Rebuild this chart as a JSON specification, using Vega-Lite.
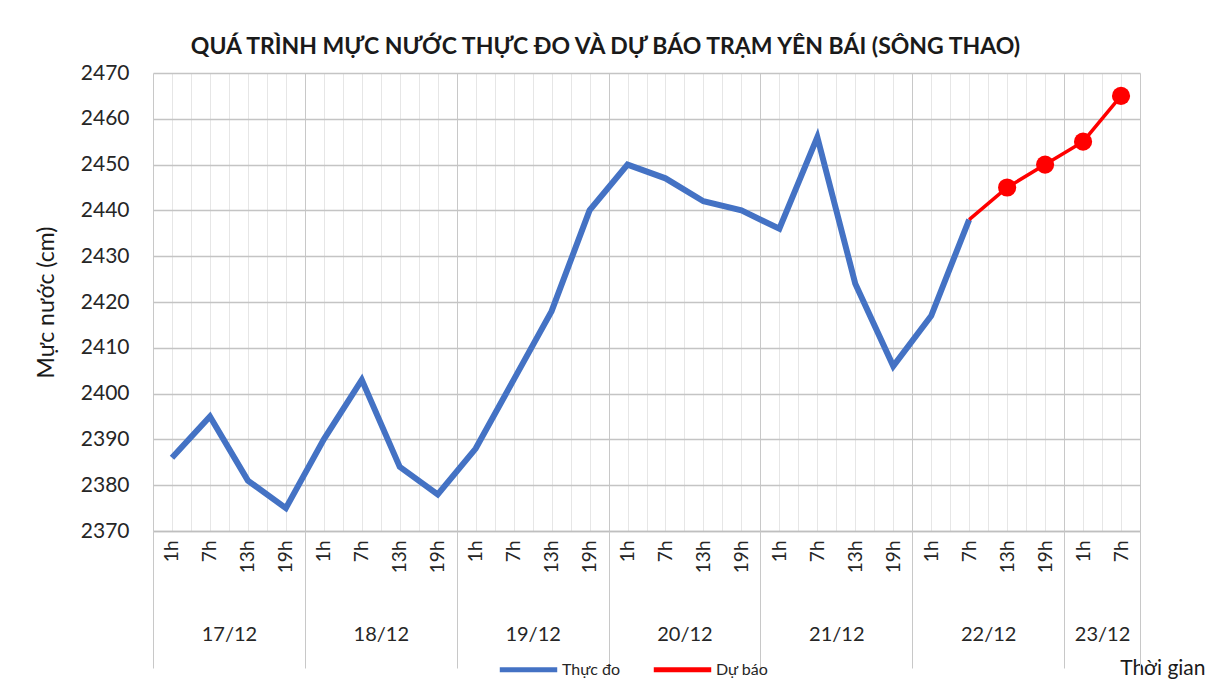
{
  "$schema": "https://vega.github.io/schema/vega-lite/v6.json",
  "width": 987,
  "height": 458,
  "autosize": {"type": "none"},
  "padding": {"left": 153, "top": 73, "right": 72, "bottom": 160},
  "background": "white",
  "title": {
    "text": "QUÁ TRÌNH MỰC NƯỚC THỰC ĐO VÀ DỰ BÁO TRẠM YÊN BÁI (SÔNG THAO)",
    "font": "Lato",
    "fontWeight": "bold",
    "fontSize": 23,
    "color": "#1a1a1a",
    "anchor": "middle",
    "dx": -41,
    "offset": 3
  },
  "config": {
    "view": {"stroke": null},
    "axis": {"labelColor": "#262626", "titleColor": "#1a1a1a", "labelFont": "Lato", "titleFont": "Lato"}
  },
  "data": {
    "values": [
      {"t": 1, "day": "17/12", "hour": "1h", "series": "Thực đo", "level": 2386},
      {"t": 2, "day": "17/12", "hour": "7h", "series": "Thực đo", "level": 2395},
      {"t": 3, "day": "17/12", "hour": "13h", "series": "Thực đo", "level": 2381},
      {"t": 4, "day": "17/12", "hour": "19h", "series": "Thực đo", "level": 2375},
      {"t": 5, "day": "18/12", "hour": "1h", "series": "Thực đo", "level": 2390},
      {"t": 6, "day": "18/12", "hour": "7h", "series": "Thực đo", "level": 2403},
      {"t": 7, "day": "18/12", "hour": "13h", "series": "Thực đo", "level": 2384},
      {"t": 8, "day": "18/12", "hour": "19h", "series": "Thực đo", "level": 2378},
      {"t": 9, "day": "19/12", "hour": "1h", "series": "Thực đo", "level": 2388},
      {"t": 10, "day": "19/12", "hour": "7h", "series": "Thực đo", "level": 2403},
      {"t": 11, "day": "19/12", "hour": "13h", "series": "Thực đo", "level": 2418},
      {"t": 12, "day": "19/12", "hour": "19h", "series": "Thực đo", "level": 2440},
      {"t": 13, "day": "20/12", "hour": "1h", "series": "Thực đo", "level": 2450},
      {"t": 14, "day": "20/12", "hour": "7h", "series": "Thực đo", "level": 2447},
      {"t": 15, "day": "20/12", "hour": "13h", "series": "Thực đo", "level": 2442},
      {"t": 16, "day": "20/12", "hour": "19h", "series": "Thực đo", "level": 2440},
      {"t": 17, "day": "21/12", "hour": "1h", "series": "Thực đo", "level": 2436},
      {"t": 18, "day": "21/12", "hour": "7h", "series": "Thực đo", "level": 2456},
      {"t": 19, "day": "21/12", "hour": "13h", "series": "Thực đo", "level": 2424},
      {"t": 20, "day": "21/12", "hour": "19h", "series": "Thực đo", "level": 2406},
      {"t": 21, "day": "22/12", "hour": "1h", "series": "Thực đo", "level": 2417},
      {"t": 22, "day": "22/12", "hour": "7h", "series": "Thực đo", "level": 2438},
      {"t": 22, "day": "22/12", "hour": "7h", "series": "Dự báo", "level": 2438},
      {"t": 23, "day": "22/12", "hour": "13h", "series": "Dự báo", "level": 2445},
      {"t": 24, "day": "22/12", "hour": "19h", "series": "Dự báo", "level": 2450},
      {"t": 25, "day": "23/12", "hour": "1h", "series": "Dự báo", "level": 2455},
      {"t": 26, "day": "23/12", "hour": "7h", "series": "Dự báo", "level": 2465}
    ]
  },
  "layer": [
    {
      "encoding": {
        "x": {
          "field": "t",
          "type": "quantitative",
          "scale": {"domain": [0.5, 26.5], "nice": false, "zero": false},
          "axis": {
            "orient": "bottom",
            "values": [0.5, 1, 1.5, 2, 2.5, 3, 3.5, 4, 4.5, 5, 5.5, 6, 6.5, 7, 7.5, 8, 8.5, 9, 9.5, 10, 10.5, 11, 11.5, 12, 12.5, 13, 13.5, 14, 14.5, 15, 15.5, 16, 16.5, 17, 17.5, 18, 18.5, 19, 19.5, 20, 20.5, 21, 21.5, 22, 22.5, 23, 23.5, 24, 24.5, 25, 25.5, 26, 26.5],
            "labelExpr": "datum.value % 1 == 0 ? ['1h','7h','13h','19h'][(datum.value - 1) % 4] : ''",
            "labelAngle": 270,
            "labelFontSize": 19,
            "labelPadding": 9,
            "labelOverlap": false,
            "labelFlush": false,
            "ticks": false,
            "domain": true,
            "domainColor": "#bfbfbf",
            "domainWidth": 1.5,
            "grid": true,
            "gridColor": {"condition": {"test": "(datum.value - 0.5) % 4 == 0 || datum.value == 26.5", "value": "#c8c8c8"}, "value": "#e6e6e6"},
            "gridWidth": 1,
            "title": "Thời gian",
            "titleFontSize": 21,
            "titleFontWeight": "normal",
            "titleX": 1052,
            "titleY": 137,
            "titleAlign": "right",
            "titleBaseline": "middle",
            "titleAngle": 0
          }
        },
        "y": {
          "field": "level",
          "type": "quantitative",
          "scale": {"domain": [2370, 2470], "nice": false, "zero": false},
          "axis": {
            "values": [2370, 2380, 2390, 2400, 2410, 2420, 2430, 2440, 2450, 2460, 2470],
            "format": "d",
            "labelFontSize": 21,
            "labelPadding": 24,
            "ticks": false,
            "domain": false,
            "grid": true,
            "gridColor": "#c4c4c4",
            "gridWidth": 1.5,
            "title": "Mực nước (cm)",
            "titleFontSize": 23,
            "titleFontWeight": "normal",
            "titlePadding": 22
          }
        },
        "color": {
          "field": "series",
          "type": "nominal",
          "scale": {"domain": ["Thực đo", "Dự báo"], "range": ["#4472C4", "#FF0000"]},
          "legend": {
            "title": null,
            "orient": "none",
            "direction": "horizontal",
            "legendX": 344,
            "legendY": 565,
            "symbolType": "stroke",
            "symbolSize": 3300,
            "symbolStrokeWidth": 5,
            "labelFont": "Lato",
            "labelFontSize": 16,
            "labelColor": "#262626",
            "columnPadding": 22,
            "labelOffset": 2
          }
        }
      },
      "layer": [
        {
          "transform": [{"filter": "datum.series == 'Thực đo'"}],
          "mark": {"type": "line", "strokeWidth": 6}
        },
        {
          "transform": [{"filter": "datum.series == 'Dự báo'"}],
          "mark": {"type": "line", "strokeWidth": 3.5}
        },
        {
          "transform": [{"filter": "datum.series == 'Dự báo' && datum.t > 22"}],
          "mark": {"type": "point", "filled": true, "size": 330, "opacity": 1}
        }
      ]
    },
    {
      "mark": {"type": "point", "opacity": 0},
      "encoding": {
        "x": {
          "field": "t",
          "type": "quantitative",
          "scale": {"domain": [0.5, 26.5], "nice": false, "zero": false},
          "axis": {
            "orient": "bottom",
            "values": [0.5, 2.5, 4.5, 6.5, 8.5, 10.5, 12.5, 14.5, 16.5, 18.5, 20.5, 22.5, 24.5, 25.5, 26.5],
            "labelExpr": "indexof([2.5, 6.5, 10.5, 14.5, 18.5, 22.5, 25.5], datum.value) >= 0 ? ['17/12','18/12','19/12','20/12','21/12','22/12','23/12'][indexof([2.5, 6.5, 10.5, 14.5, 18.5, 22.5, 25.5], datum.value)] : ''",
            "labelFont": "Lato",
            "labelFontSize": 20,
            "labelOverlap": false,
            "labelFlush": false,
            "labelPadding": -44,
            "tickSize": 137,
            "tickColor": "#c8c8c8",
            "tickWidth": 1,
            "tickOpacity": {"condition": {"test": "indexof([2.5, 6.5, 10.5, 14.5, 18.5, 22.5, 25.5], datum.value) >= 0", "value": 0}, "value": 1},
            "domain": false,
            "grid": false,
            "title": null
          }
        },
        "y": {"field": "level", "type": "quantitative"}
      }
    }
  ],
  "resolve": {"scale": {"x": "independent"}, "axis": {"x": "independent"}}
}
